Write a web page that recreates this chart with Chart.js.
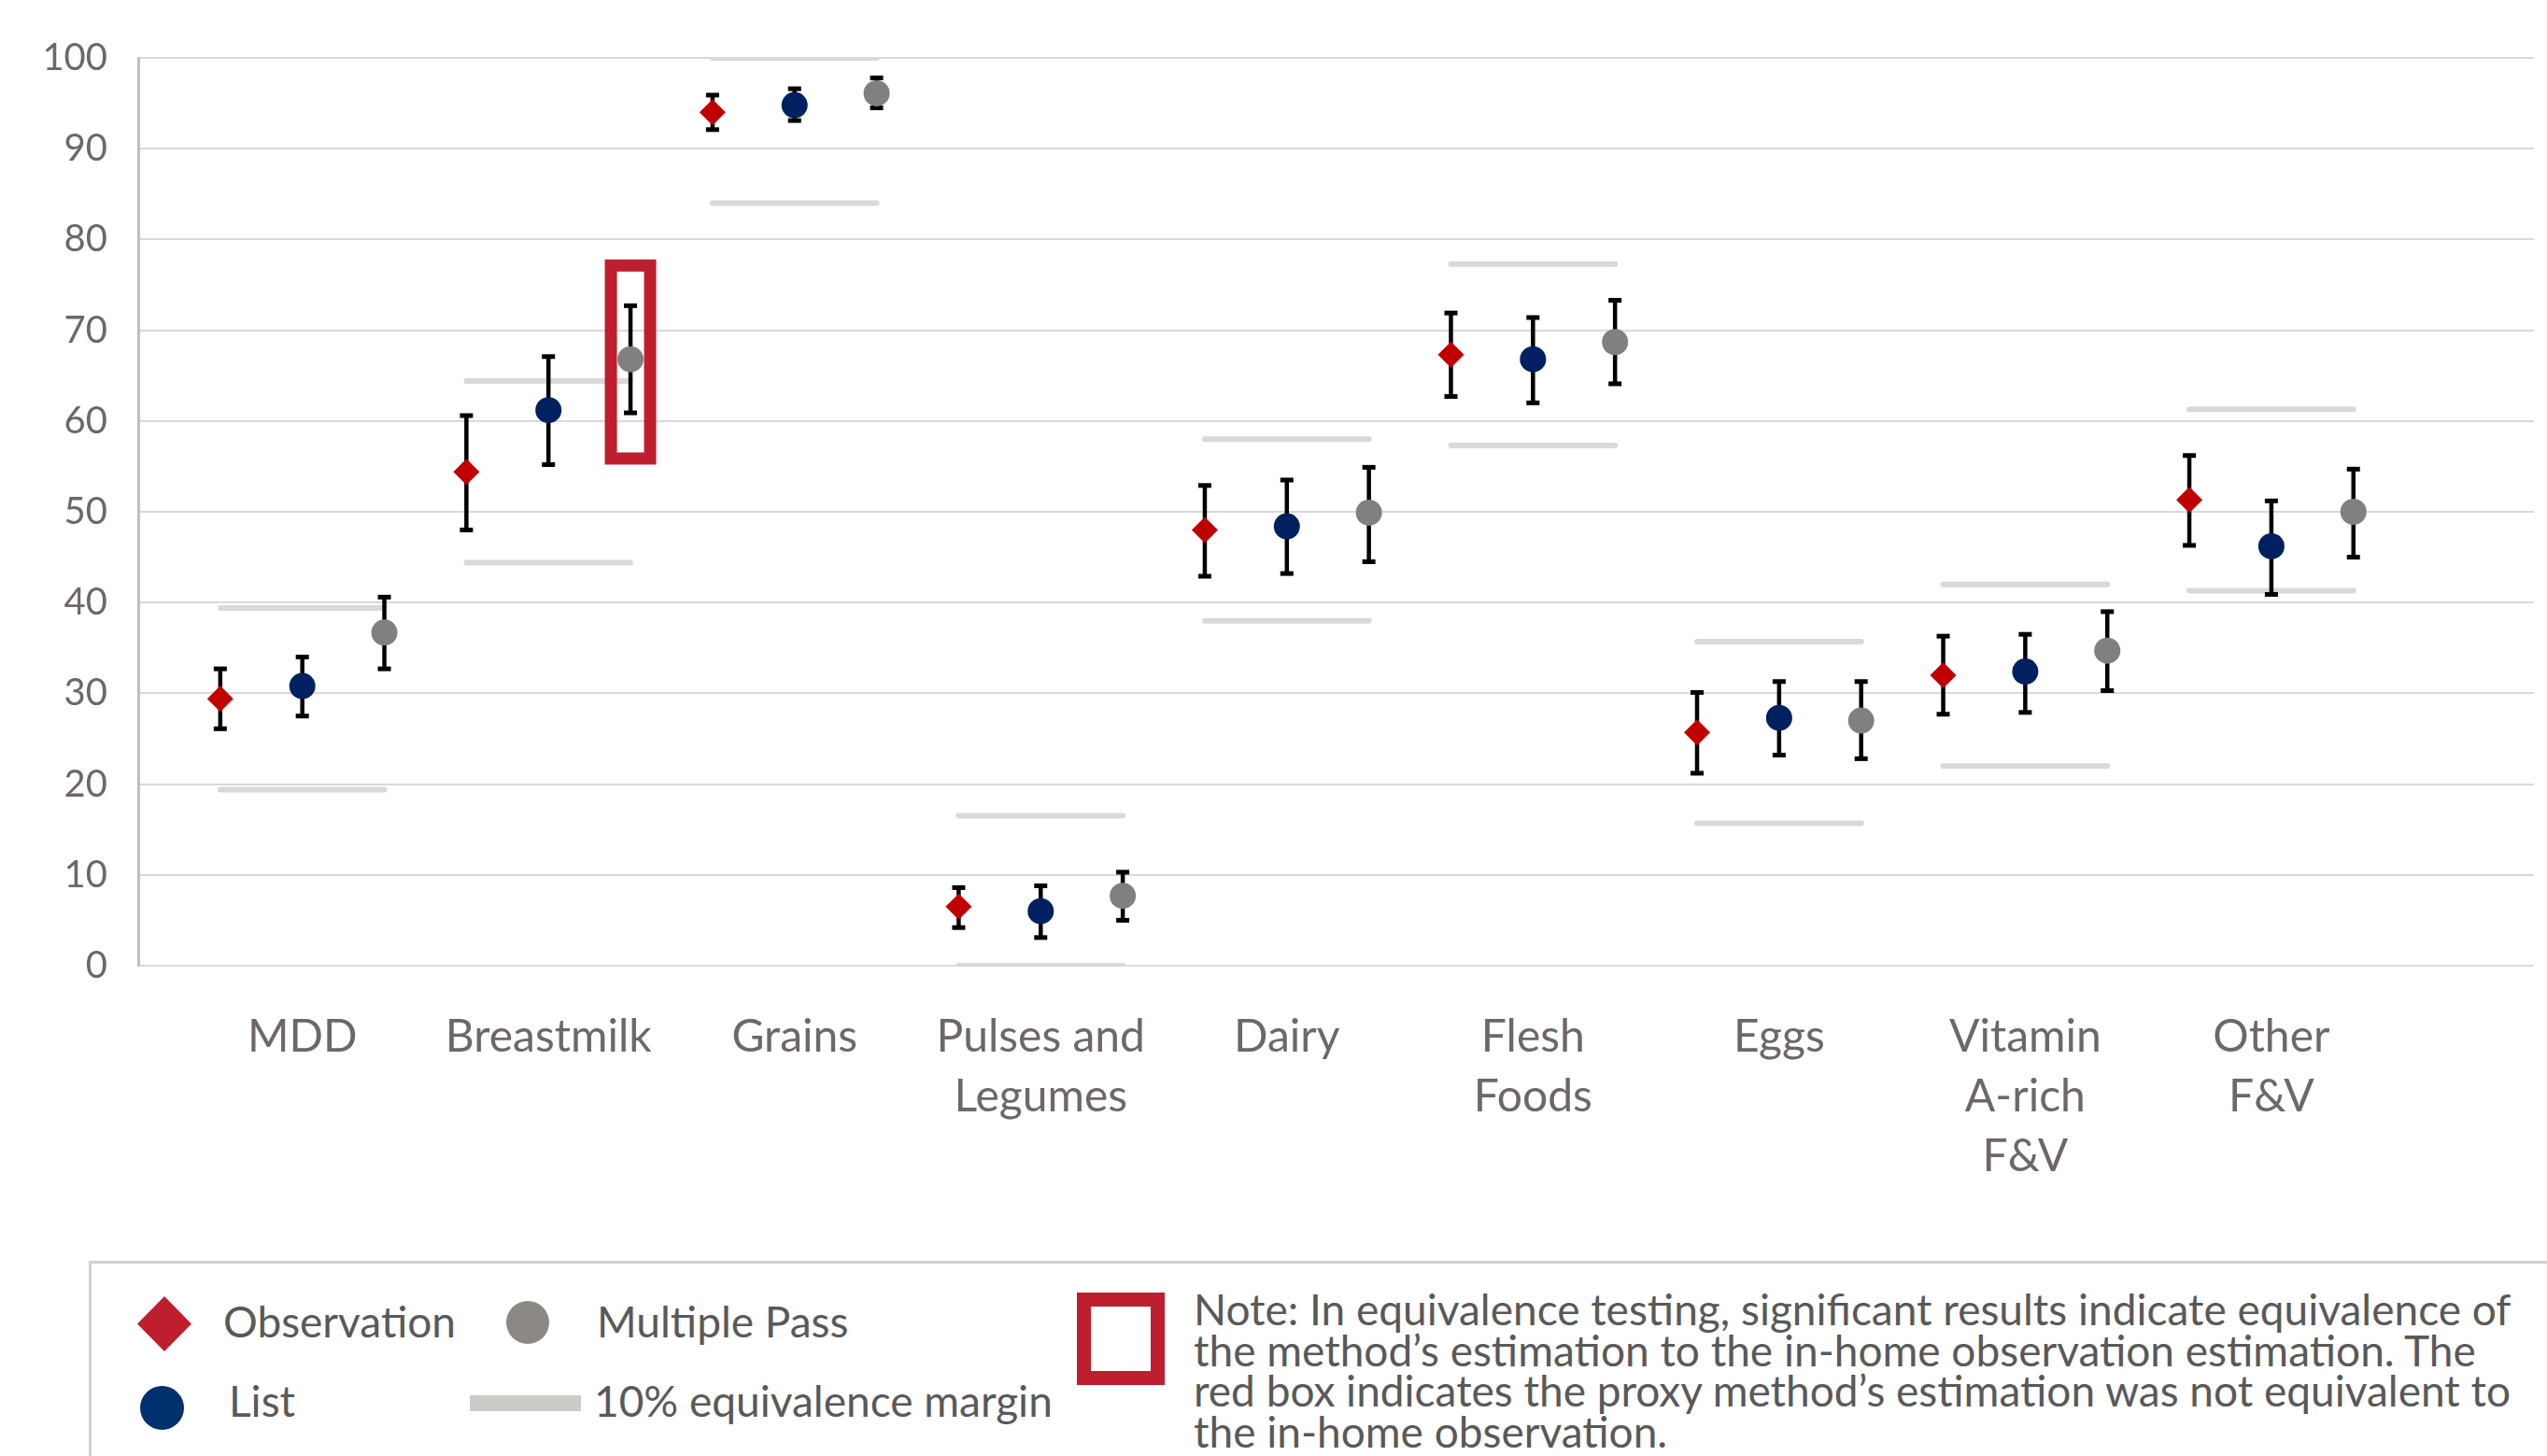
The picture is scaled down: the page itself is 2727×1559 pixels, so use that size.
<!DOCTYPE html>
<html>
<head>
<meta charset="utf-8">
<script src="https://cdn.jsdelivr.net/npm/chart.js@4.4.1/dist/chart.umd.min.js"></script>
<style>
  html, body { margin: 0; padding: 0; background: #fff; overflow: hidden; }
  #wrap { position: relative; width: 2727px; height: 1559px; overflow: hidden; font-family: Lato, "Open Sans", sans-serif; }
  #chart { position: absolute; left: 0; top: 0; }
  .legend-frame { position: absolute; left: 95px; top: 1350px; width: 3000px; height: 400px;
                  border-top: 3px solid #D3D1CF; border-left: 3px solid #D3D1CF; }
  .lg { position: absolute; font-size: 46px; line-height: 46px; color: #595959; white-space: nowrap; }
  .dot { position: absolute; border-radius: 50%; }
  .note { position: absolute; left: 1278px; top: 1380px; font-size: 46px; line-height: 43.5px;
          color: #595959; white-space: nowrap; }
</style>
</head>
<body>
<div id="wrap">
  <canvas id="chart" width="2727" height="1340"></canvas>

  <div class="legend-frame"></div>

  <svg style="position:absolute;left:147px;top:1388px" width="58" height="59">
    <polygon points="29,0 58,29.5 29,59 0,29.5" fill="#BE1E2D"/>
  </svg>
  <div class="lg" style="left:239px;top:1392px">Observation</div>

  <div class="dot" style="left:542px;top:1393px;width:46px;height:46px;background:#8C8984"></div>
  <div class="lg" style="left:639px;top:1392px">Multiple Pass</div>

  <div class="dot" style="left:150px;top:1484px;width:47px;height:47px;background:#00306E"></div>
  <div class="lg" style="left:245px;top:1477px">List</div>

  <div style="position:absolute;left:503px;top:1494px;width:119px;height:17px;background:#CCCBC7"></div>
  <div class="lg" style="left:636px;top:1477px">10% equivalence margin</div>

  <div style="position:absolute;left:1153px;top:1384px;width:94px;height:99px;border:15px solid #BE1E2D;box-sizing:border-box"></div>
  <div class="note">Note: In equivalence testing, significant results indicate equivalence of<br>the method’s estimation to the in-home observation estimation. The<br>red box indicates the proxy method’s estimation was not equivalent to<br>the in-home observation.</div>
</div>

<script>
// Food groups along the x axis (multi-line names are arrays)
const categories = ['MDD', 'Breastmilk', 'Grains', ['Pulses and', 'Legumes'], 'Dairy',
                    ['Flesh', 'Foods'], 'Eggs', ['Vitamin', 'A-rich', 'F&V'], ['Other', 'F&V']];

// Prevalence (%) with 95% CI per method
const observation   = [29.4, 54.4, 94.0, 6.5, 48.0, 67.3, 25.7, 32.0, 51.3];
const observationLo = [26.1, 48.0, 92.1, 4.2, 42.9, 62.7, 21.2, 27.7, 46.3];
const observationHi = [32.7, 60.6, 95.9, 8.6, 52.9, 71.9, 30.1, 36.3, 56.2];

const list   = [30.8, 61.2, 94.8, 6.0, 48.4, 66.8, 27.3, 32.4, 46.2];
const listLo = [27.5, 55.2, 93.1, 3.1, 43.2, 62.0, 23.2, 27.9, 40.9];
const listHi = [34.0, 67.1, 96.6, 8.8, 53.5, 71.4, 31.3, 36.5, 51.2];

const multiplePass   = [36.7, 66.8, 96.1, 7.7, 49.9, 68.7, 27.0, 34.7, 50.0];
const multiplePassLo = [32.7, 60.9, 94.5, 5.0, 44.5, 64.1, 22.8, 30.3, 45.0];
const multiplePassHi = [40.6, 72.7, 97.8, 10.3, 54.9, 73.3, 31.3, 39.0, 54.7];

// 10% equivalence margin around the observation estimate
const marginUpper = [39.4, 64.4, 100.0, 16.5, 58.0, 77.3, 35.7, 42.0, 61.3];
const marginLower = [19.4, 44.4, 84.0, 0.0, 38.0, 57.3, 15.7, 22.0, 41.3];

// Estimate not equivalent to observation: [category index, series index, box low, box high]
const notEquivalent = [[1, 2, 55.2, 77.8]];

const yTicks = [0, 10, 20, 30, 40, 50, 60, 70, 80, 90, 100];

// Each food group occupies three consecutive x slots: Observation, List, Multiple Pass
const slot = (cat, series) => cat * 3 + series + 1;

const toPoints = (vals, s) => vals.map((v, i) => ({ x: slot(i, s), y: v }));
const marginSegments = vals => {
  const pts = [];
  vals.forEach((v, i) => {
    pts.push({ x: slot(i, 0), y: v }, { x: slot(i, 2), y: v }, { x: slot(i, 2) + 0.5, y: null });
  });
  return pts;
};

const intervals = [
  { lo: observationLo, hi: observationHi },
  { lo: listLo, hi: listHi },
  { lo: multiplePassLo, hi: multiplePassHi }
];

const errorBars = {
  id: 'errorBars',
  beforeDatasetDraw(chart, args) {
    if (args.index !== 2) return;           // draw right before the first marker layer
    const { ctx, scales: { x, y } } = chart;
    ctx.save();
    ctx.strokeStyle = '#000';
    ctx.fillStyle = '#000';
    ctx.lineWidth = 4.5;
    intervals.forEach((s, si) => {
      s.lo.forEach((lo, i) => {
        const px = x.getPixelForValue(slot(i, si));
        const top = y.getPixelForValue(s.hi[i]);
        const bot = y.getPixelForValue(lo);
        ctx.beginPath();
        ctx.moveTo(px, top);
        ctx.lineTo(px, bot);
        ctx.stroke();
        ctx.fillRect(px - 7, top - 2.5, 14, 5);
        ctx.fillRect(px - 7, bot - 2.5, 14, 5);
      });
    });
    ctx.restore();
  },
  afterDatasetsDraw(chart) {
    const { ctx, scales: { x, y } } = chart;
    ctx.save();
    ctx.strokeStyle = '#BE1E2D';
    ctx.lineWidth = 13;
    notEquivalent.forEach(([cat, s, lo, hi]) => {
      const px = x.getPixelForValue(slot(cat, s));
      const top = y.getPixelForValue(hi);
      const bot = y.getPixelForValue(lo);
      const half = 27.5;
      ctx.strokeRect(px - half + 6.5, top + 6.5, half * 2 - 13, bot - top - 13);
    });
    ctx.restore();
  }
};

const CANVAS_H = 1340;
const PLOT_BOTTOM = 1034;
const tickColor = '#6E6767';

new Chart(document.getElementById('chart'), {
  type: 'scatter',
  data: {
    datasets: [
      { label: 'Observation', data: toPoints(observation, 0), pointStyle: 'rectRot',
        pointRadius: 14, backgroundColor: '#C00000', borderWidth: 0 },
      { label: 'List', data: toPoints(list, 1), pointStyle: 'circle',
        pointRadius: 14, backgroundColor: '#002060', borderWidth: 0 },
      { label: 'Multiple Pass', data: toPoints(multiplePass, 2), pointStyle: 'circle',
        pointRadius: 14, backgroundColor: '#808080', borderWidth: 0 },
      { type: 'line', label: 'Upper margin', data: marginSegments(marginUpper),
        borderColor: '#D9D9D9', borderWidth: 6, borderCapStyle: 'round', pointRadius: 0,
        spanGaps: false, fill: false },
      { type: 'line', label: 'Lower margin', data: marginSegments(marginLower),
        borderColor: '#D9D9D9', borderWidth: 6, borderCapStyle: 'round', pointRadius: 0,
        spanGaps: false, fill: false }
    ]
  },
  options: {
    responsive: false,
    animation: false,
    events: [],
    layout: { padding: { top: 62, right: 0, bottom: 0, left: 0 } },
    plugins: { legend: { display: false }, tooltip: { enabled: false } },
    scales: {
      x: {
        type: 'linear', min: 0, max: 29.2,
        grid: { display: false, drawTicks: false },
        border: { display: false },
        afterFit: s => { s.height = CANVAS_H - PLOT_BOTTOM; s.paddingLeft = 0; s.paddingRight = 0; },
        ticks: {
          stepSize: 1, autoSkip: false, maxRotation: 0, padding: 45,
          color: tickColor,
          font: { family: 'Lato', size: 48, lineHeight: 1.333 },
          callback: v => (Number.isInteger(v) && v % 3 === 2) ? categories[(v - 2) / 3] : ''
        }
      },
      y: {
        min: yTicks[0], max: yTicks[yTicks.length - 1],
        afterBuildTicks: s => { s.ticks = yTicks.map(v => ({ value: v })); },
        afterFit: s => { s.width = 148; },
        grid: { color: '#D9D9D9', lineWidth: 2, drawTicks: false },
        border: { color: '#BFBFBF', width: 3 },
        ticks: { padding: 33, color: tickColor, font: { family: 'Lato', size: 40 } }
      }
    }
  },
  plugins: [errorBars]
});
</script>
</body>
</html>
